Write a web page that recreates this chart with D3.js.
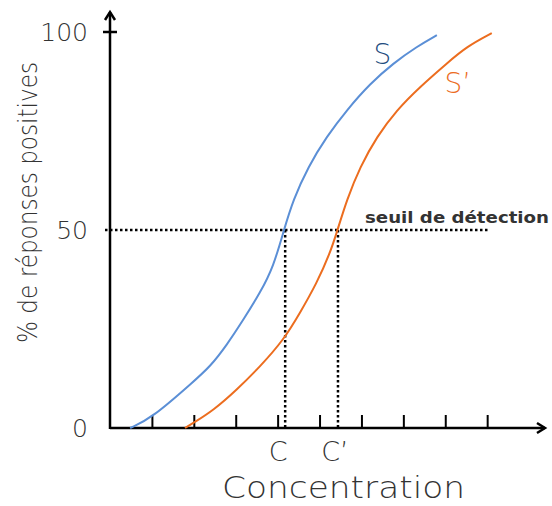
<!DOCTYPE html>
<html>
<head>
<style type="text/css">
    body { margin: 0; background: #fff; }
    #mySvg { width: 552px; height: 506px; display: block; }
    text { font-family: "DejaVu Sans", sans-serif; font-weight: 200; fill: #333; }
</style>
<script src="https://d3js.org/d3.v7.min.js"></script>
</head>
<body>
<svg id="mySvg"></svg>
<script type="text/javascript">
// values (x in tick units, y in %)
const sX = [0.48, 1.0, 1.99, 2.39, 2.79, 3.18, 3.58, 3.90, 4.15, 4.37, 4.73, 5.17, 5.65, 6.21, 6.76, 7.32, 7.80];
const sY = [0, 2.5, 11.7, 15.5, 21.0, 27.3, 34.1, 40.7, 50, 57.6, 66.0, 73.6, 80.3, 87.0, 92.1, 96.3, 99.2];
const s2X = [1.79, 1.99, 2.47, 3.02, 3.58, 4.14, 4.53, 4.93, 5.25, 5.43, 5.65, 5.97, 6.37, 6.84, 7.40, 8.04, 8.51, 9.11];
const s2Y = [0, 1.3, 4.5, 9.6, 15.5, 22.2, 29.0, 36.5, 44.1, 50, 57.6, 66.0, 73.6, 80.3, 86.2, 92.1, 96.3, 99.7];
const xTicks = [1, 2, 3, 4, 5, 6, 7, 8, 9];
const yLabels = [0, 50, 100];
const threshold = 50;
const concLabels = ['C', 'C\u2019'];
const concValues = [4.18, 5.44];

const svg = d3.select('#mySvg');

const x = d3.scaleLinear().domain([0, 10.38]).range([110, 545]);
const y = d3.scaleLinear().domain([0, 100]).range([428, 32]);

// x ticks pointing up from the baseline
svg.append('g')
    .attr('transform', 'translate(0,' + y(0) + ')')
    .call(d3.axisTop(x).tickValues(xTicks).tickSize(13).tickFormat(''))
    .call(g => g.select('.domain').remove())
    .selectAll('line').attr('stroke', '#000').attr('stroke-width', 2);

// axes with open arrow heads
const axes = svg.append('g').attr('stroke', '#000').attr('stroke-width', 2.5).attr('fill', 'none');
axes.append('path').attr('d', 'M' + x(0) + ',' + y(0) + 'H' + x(10.38));
axes.append('path').attr('d', 'M' + (x(10.38) - 8) + ',' + (y(0) - 5) + 'L' + x(10.38) + ',' + y(0) + 'L' + (x(10.38) - 8) + ',' + (y(0) + 5));
axes.append('path').attr('d', 'M' + x(0) + ',' + (y(0) + 1) + 'V12');
axes.append('path').attr('d', 'M' + (x(0) - 5) + ',20L' + x(0) + ',12L' + (x(0) + 5) + ',20');
axes.append('path').attr('d', 'M' + (x(0) - 7) + ',' + y(100) + 'H' + (x(0) + 7));

// y labels
svg.selectAll('text.ylab')
    .data(yLabels)
    .enter()
    .append('text')
    .attr('class', 'ylab')
    .attr('x', 88)
    .attr('y', d => y(d) + 9)
    .attr('text-anchor', 'end')
    .style('font-size', '25px')
    .text(d => d);

// threshold dotted lines
const dots = svg.append('g').attr('stroke', '#000').attr('stroke-width', 2.5).attr('stroke-dasharray', '2.5,2.5');
dots.append('line')
    .attr('x1', 105).attr('x2', x(9.05))
    .attr('y1', y(threshold)).attr('y2', y(threshold));
dots.selectAll('line.v')
    .data(concValues)
    .enter()
    .append('line')
    .attr('class', 'v')
    .attr('x1', d => x(d)).attr('x2', d => x(d))
    .attr('y1', y(threshold)).attr('y2', y(0));

svg.append('text')
    .attr('x', 365).attr('y', y(threshold) - 7)
    .attr('textLength', 184)
    .attr('lengthAdjust', 'spacingAndGlyphs')
    .style('font-size', '16px')
    .style('font-weight', 'bold')
    .text('seuil de détection');

// curves
const line = d3.line().x(d => x(d[0])).y(d => y(d[1])).curve(d3.curveBasis);
svg.append('path')
    .datum(d3.zip(sX, sY))
    .attr('d', line)
    .attr('fill', 'none').attr('stroke', '#5b8fd6').attr('stroke-width', 2);
svg.append('path')
    .datum(d3.zip(s2X, s2Y))
    .attr('d', line)
    .attr('fill', 'none').attr('stroke', '#ec6d1f').attr('stroke-width', 2);

svg.append('text')
    .attr('x', x(6.5)).attr('y', 64)
    .attr('text-anchor', 'middle')
    .style('font-size', '28px')
    .style('fill', '#1f4e80')
    .text('S');
svg.append('text')
    .attr('x', x(8.3)).attr('y', 93)
    .attr('text-anchor', 'middle')
    .style('font-size', '28px')
    .style('fill', '#ec6d1f')
    .text('S\u2019');

// C / C'
svg.selectAll('text.conc')
    .data(concValues)
    .enter()
    .append('text')
    .attr('class', 'conc')
    .attr('x', (d, i) => x(d) - 7 + i * 4)
    .attr('y', 461)
    .attr('text-anchor', 'middle')
    .style('font-size', '27px')
    .text((d, i) => concLabels[i]);

svg.append('text')
    .attr('x', 222).attr('y', 498)
    .attr('textLength', 243)
    .attr('lengthAdjust', 'spacingAndGlyphs')
    .style('font-size', '31px')
    .text('Concentration');

svg.append('text')
    .attr('transform', 'translate(37,' + 343 + ') rotate(-90)')
    .attr('textLength', 281)
    .attr('lengthAdjust', 'spacingAndGlyphs')
    .style('font-size', '26px')
    .text('% de réponses positives');
</script>
</body>
</html>
